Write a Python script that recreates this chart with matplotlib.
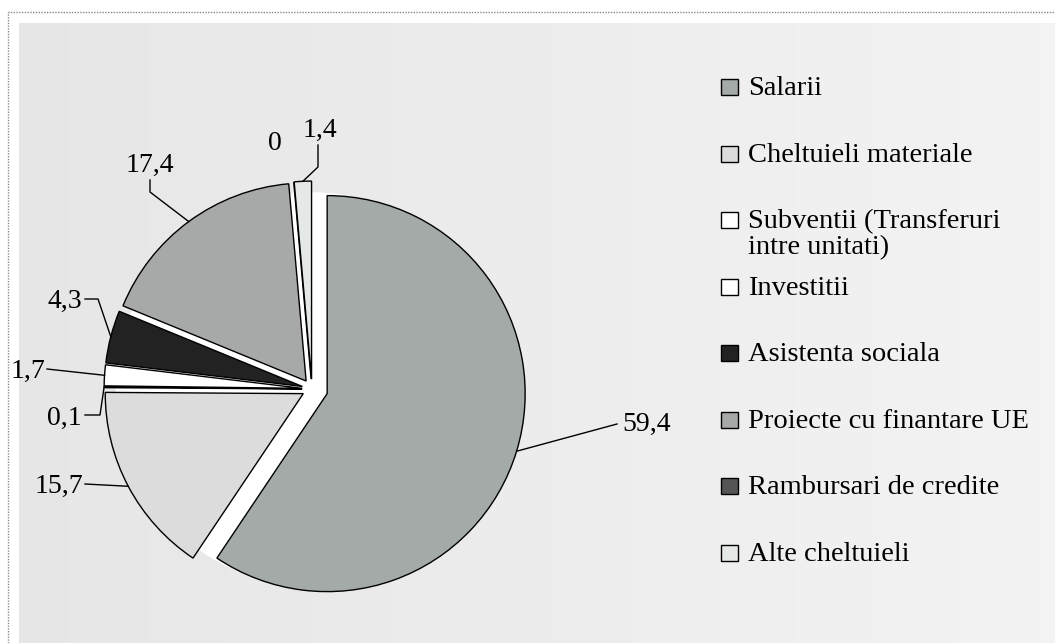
import numpy as np
import matplotlib
matplotlib.use('Agg')
import matplotlib.pyplot as plt
from matplotlib.patches import Rectangle

plt.rcParams['font.family'] = ['Liberation Serif', 'DejaVu Serif']

# date: structura cheltuielilor (%)
categorii = ['Salarii', 'Cheltuieli materiale', 'Subventii (Transferuri\nintre unitati)',
             'Investitii', 'Asistenta sociala', 'Proiecte cu finantare UE',
             'Rambursari de credite', 'Alte cheltuieli']
valori = [59.4, 15.7, 0.1, 1.7, 4.3, 17.4, 0.0, 1.4]
etichete = ['59,4', '15,7', '0,1', '1,7', '4,3', '17,4', '0', '1,4']
culori = ['#a4aaa8', '#dcdcdc', '#ffffff', '#ffffff', '#222222', '#a6a9a8', '#555555', '#e4e8e6']

W, H = 1055, 643
fig = plt.figure(figsize=(W / 100, H / 100), dpi=100)
fig.patch.set_facecolor('white')
ax = fig.add_axes([0, 0, 1, 1])
ax.set_xlim(0, W); ax.set_ylim(0, H)
ax.axis('off')

# fundal gri + chenar
grad = np.linspace(0.9, 0.95, 256)[None, :].repeat(2, axis=0)
ax.imshow(grad, cmap='gray', vmin=0, vmax=1, extent=(19, W, 0, H - 23), aspect='auto', zorder=0)

cx, cy, R = 312, H - 389, 198
explode = [R * e for e in [0.08, 0.05, 0.05, 0.05, 0.05, 0.05, 0.05, 0.05]]
ax.add_patch(plt.Circle((cx, cy), R * 0.99, color='white', zorder=0.5))
wedges, _ = ax.pie(valori, colors=culori, explode=explode, startangle=90, counterclock=False,
                   center=(cx, cy), radius=R, frame=True,
                   wedgeprops=dict(edgecolor='black', linewidth=1.0))
ax.set_xlim(0, W); ax.set_ylim(0, H); ax.set_aspect('equal'); ax.axis('off')

# etichete cu linii de legatura (pozitii in pixeli, y de sus)
lab_pos = {0: (622, 424, 'left'), 1: (83, 486, 'right'), 2: (82, 418, 'right'), 3: (45, 371, 'right'),
           4: (82, 301, 'right'), 5: (150, 165, 'center'), 6: (275, 144, 'center'), 7: (320, 130, 'center')}
elbows = {0: [(617, 424)], 1: [(85, 484)], 2: [(85, 415), (100, 415)], 3: [(47, 369)],
          4: [(85, 299), (98, 299)], 5: [(150, 180), (150, 192)], 6: [], 7: [(318, 145), (318, 167)]}
for i, w in enumerate(wedges):
    x, y, ha = lab_pos[i]
    ax.text(x, H - y, etichete[i], fontsize=20, ha=ha, va='center', zorder=5)
    if i == 6:
        continue
    ang = np.deg2rad((w.theta1 + w.theta2) / 2)
    wx, wy = w.center
    ax_, ay_ = wx + R * np.cos(ang), wy + R * np.sin(ang)
    pts = elbows[i]
    xs = [p[0] for p in pts] + [ax_]
    ys = [H - p[1] for p in pts] + [ay_]
    ax.plot(xs, ys, color='black', lw=1, zorder=4)

# chenar punctat
ax.plot([8, 8, W], [0, H - 12, H - 12], color='#8a8a8a', lw=1, ls=(0, (1, 1)), zorder=7)

# legenda
leg_y = np.linspace(87, 553, len(categorii))
for i, (lab, c) in enumerate(zip(categorii, culori)):
    y = H - leg_y[i]
    ax.add_patch(Rectangle((721, y - 8), 17, 16, facecolor=c, edgecolor='black', lw=1, zorder=5))
    ax.text(748, y + 11, lab, fontsize=20.5, ha='left', va='top', linespacing=1.05, zorder=5)

fig.savefig('out.png', dpi=100)
